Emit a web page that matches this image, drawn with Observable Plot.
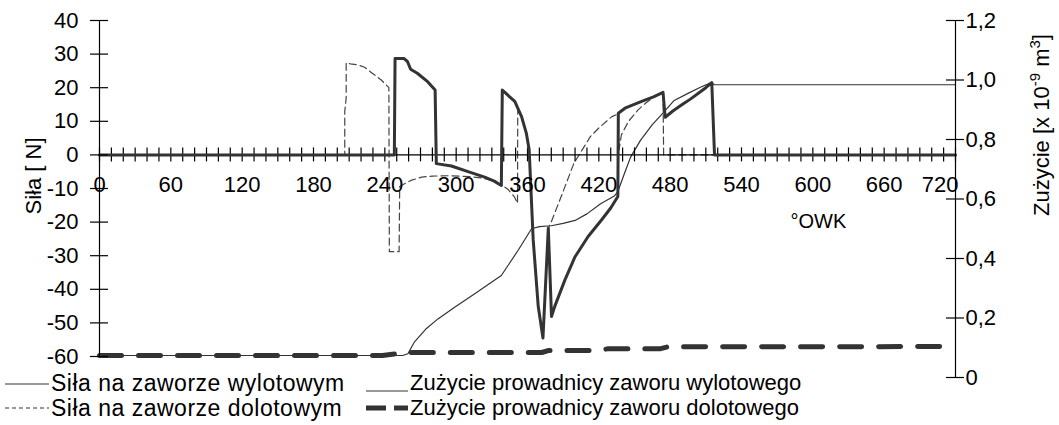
<!DOCTYPE html>
<html><head><meta charset="utf-8">
<script src="https://cdn.jsdelivr.net/npm/d3@7"></script>
<script src="https://cdn.jsdelivr.net/npm/@observablehq/plot@0.6"></script>
<style>
body{margin:0;background:#fff;font-family:"Liberation Sans",Arial,sans-serif;}
#wrap{position:relative;width:1059px;height:425px;overflow:hidden;}
.lgt{position:absolute;font-size:22px;line-height:22px;white-space:nowrap;color:#000;}
.lgt.wide{font-size:23px;letter-spacing:0.5px;}
.lgs{position:absolute;}
</style></head>
<body><div id="wrap"><div id="chart"></div><div id="legend"></div></div>
<script>
// ---- data (crank angle in °OWK) ----
const exhaustForceDeg = [0,248,248.6,256,259,261.7,267.3,276,282.3,283.3,296,310,324,332,338,338.8,341,345,349.3,355,359,361.4,364.8,369,373,377.5,380.2,383,391.5,400,411,422.4,430,436,436.4,442,456,466,474,475.8,482,489.8,497,504,510,515,517.3,720];
const exhaustForceN   = [0,0,28.7,28.7,27.8,25.5,24.3,21.8,19.3,-2.6,-3.3,-5.0,-6.6,-7.8,-9.1,19.3,18.6,17.3,15.9,11.4,6.5,1.5,-25.3,-45,-54.5,-21.8,-48.1,-45,-37.2,-30.3,-24.3,-19.3,-15.8,-12.4,12.4,13.9,15.9,17.3,18.6,11.2,13,14.9,16.6,18.4,20,21.5,0,0];

const intakeForceDeg = [0,206.3,206.3,207.5,207.5,211,217,223,228,237,243.4,243.8,252,252.5,257,262,271,280,295,313,322,330,338,344,349,351.6,351.8,355,359,361.4,364.8,369,373,377.5,379.6,385,390.5,399,406,413,420,431,436.2,437,439,445,453,460,467,474,474.5,720];
const intakeForceN   = [0,0,13,17,27.5,27.1,26.8,26.1,24.7,22.3,20.0,-28.8,-28.8,-9.4,-8.5,-7.6,-6.6,-6.3,-6.2,-6.5,-6.9,-7.6,-8.8,-10.4,-12.5,-14.4,13.4,11.4,6.5,1.5,-25.3,-45,-54.5,-21.8,-20.3,-15.4,-10.4,-2.5,1.5,5.5,8,11.4,12.2,1.5,6,10,13.4,15.6,17.4,18.4,0,0];

const exhaustWearDeg = [0,255,259.4,265,275,284.7,298.7,315,338,352,363.4,370,380,390,400,410,421.5,433,436,441,446.6,455,465,472,483,495,505,515,517,720];
const exhaustWear    = [0.074,0.074,0.080,0.12,0.165,0.197,0.236,0.28,0.343,0.427,0.50,0.507,0.51,0.518,0.528,0.55,0.584,0.61,0.625,0.68,0.74,0.797,0.85,0.88,0.93,0.955,0.975,0.992,0.984,0.984];

const intakeWearDeg = [0,238,248,258,372,378,420,428,472,478,720];
const intakeWear    = [0.074,0.074,0.079,0.084,0.084,0.091,0.091,0.097,0.097,0.103,0.104];

// ---- axes ----
const xLabels = [0,60,120,180,240,300,360,420,480,540,600,660,720];
const xMinor = d3.range(0, 721, 10);
const leftTicks = [-60,-50,-40,-30,-20,-10,0,10,20,30,40];
const rightTicks = [0,0.2,0.4,0.6,0.8,1.0,1.2];
const rightTickLabels = ["0","0,2","0,4","0,6","0,8","1,0","1,2"];

const leftTitle = "Siła [ N]";
const xTitle = "°OWK";
const seriesNames = ["Siła na zaworze wylotowym","Siła na zaworze dolotowym","Zużycie prowadnicy zaworu wylotowego","Zużycie prowadnicy zaworu dolotowego"];

// secondary axis mapping: right [0,1.2] spans slightly lower than left [-60,40]
const yLow = -66.25, yHigh = 40, rMax = 1.2;
const toLeft = r => yLow + r * (yHigh - yLow) / rMax;

const zip = (xs, ys) => xs.map((x, i) => ({x, y: ys[i]}));
const exF = zip(exhaustForceDeg, exhaustForceN);
const inF = zip(intakeForceDeg, intakeForceN);
const exW = zip(exhaustWearDeg, exhaustWear);
const inW = zip(intakeWearDeg, intakeWear);
const rt = rightTicks.map((v, i) => ({v, label: rightTickLabels[i]}));
const xLast = xLabels[xLabels.length - 1];

const ink = "#000", line = "#333";

const chart = Plot.plot({
  width: 1059, height: 425,
  marginLeft: 99, marginRight: 104, marginTop: 20, marginBottom: 48,
  x: {domain: [0, 720], axis: null},
  y: {domain: [yLow, yHigh], axis: null},
  style: {fontFamily: "'Liberation Sans', Arial, sans-serif", background: "#fff", overflow: "visible"},
  marks: [
    // series
    Plot.line(inW, {x: "x", y: d => toLeft(d.y), stroke: line, strokeWidth: 5, strokeDasharray: "22,17"}),
    Plot.line(exW, {x: "x", y: d => toLeft(d.y), stroke: line, strokeWidth: 1.2}),
    Plot.line(inF, {x: "x", y: "y", stroke: "#444", strokeWidth: 1.2, strokeDasharray: "7,4"}),
    // axes
    Plot.ruleY([0], {x1: xMinor[0], x2: xMinor[xMinor.length - 1], stroke: ink, strokeWidth: 1.2}),
    Plot.ruleX(xMinor, {x: d => d, y1: 0, y2: 0, insetTop: -7, insetBottom: -7, stroke: ink, strokeWidth: 1.2}),
    Plot.line(exF, {x: "x", y: "y", stroke: line, strokeWidth: 3, strokeLinejoin: "round"}),
    Plot.ruleX([0], {y1: d3.min(leftTicks), y2: d3.max(leftTicks), stroke: ink, strokeWidth: 1.2}),
    Plot.ruleY(leftTicks, {y: d => d, x1: 0, x2: 0, insetLeft: -9, insetRight: -9, stroke: ink, strokeWidth: 1.2}),
    Plot.text(leftTicks, {x: 0, y: d => d, text: d => String(d), textAnchor: "end", dx: -21, fontSize: 22, fill: ink}),
    Plot.ruleX([720], {y1: toLeft(d3.min(rightTicks)), y2: toLeft(d3.max(rightTicks)), stroke: ink, strokeWidth: 1.2}),
    Plot.ruleY(rt, {y: d => toLeft(d.v), x1: 720, x2: 720, insetLeft: -9, insetRight: -9, stroke: ink, strokeWidth: 1.2}),
    Plot.text(rt, {x: 720, y: d => toLeft(d.v), text: "label", textAnchor: "start", dx: 10, fontSize: 22, fill: ink}),
    Plot.text(xLabels.filter(d => d !== xLast), {x: d => d, y: 0, dy: 30, text: d => String(d), fontSize: 22, fill: ink}),
    Plot.text([xLast], {x: d => d, y: 0, dy: 30, dx: 3, text: d => String(d), textAnchor: "end", fontSize: 22, fill: ink}),
    Plot.text([xTitle], {frameAnchor: "top-right", dx: -165, dy: 193, textAnchor: "start", fontSize: 20, fill: ink})
  ]
});
document.getElementById("chart").appendChild(chart);

const svg = d3.select(chart);
svg.append("text")
  .attr("transform", "translate(33,176) rotate(-90)")
  .attr("text-anchor", "middle").attr("dy", "0.35em")
  .attr("font-size", 22).attr("fill", ink)
  .text(leftTitle);
const rtx = svg.append("text")
  .attr("transform", "translate(1041,125) rotate(-90)")
  .attr("text-anchor", "middle").attr("dy", "0.35em")
  .attr("font-size", 22).attr("fill", ink);
rtx.append("tspan").text("Zużycie [x 10");
rtx.append("tspan").attr("font-size", 15).attr("dy", "-0.6em").text("-9");
rtx.append("tspan").attr("dy", "0.4em").text(" m");
rtx.append("tspan").attr("font-size", 15).attr("dy", "-0.6em").text("3");
rtx.append("tspan").attr("dy", "0.4em").text("]");

// ---- legend ----
const lg = document.getElementById("legend");
const items = [
  {left: 5, top: 372, sw: 44, ly: 12, w: 1.2, dash: null, tx: 51, cls: "lgt wide"},
  {left: 5, top: 397, sw: 44, ly: 11, w: 1.2, dash: "4,3", tx: 51, cls: "lgt wide"},
  {left: 366, top: 372, sw: 42, ly: 19, w: 1.2, dash: null, tx: 410, cls: "lgt"},
  {left: 366, top: 397, sw: 42, ly: 11, w: 5, dash: "20,8", tx: 410, cls: "lgt"}
];
items.forEach((it, i) => {
  const s = document.createElementNS("http://www.w3.org/2000/svg", "svg");
  s.setAttribute("class", "lgs");
  s.setAttribute("width", it.sw); s.setAttribute("height", 24);
  s.style.left = it.left + "px"; s.style.top = it.top + "px";
  const l = document.createElementNS("http://www.w3.org/2000/svg", "line");
  l.setAttribute("x1", 0); l.setAttribute("x2", it.sw);
  l.setAttribute("y1", it.ly); l.setAttribute("y2", it.ly);
  l.setAttribute("stroke", line); l.setAttribute("stroke-width", it.w);
  if (it.dash) l.setAttribute("stroke-dasharray", it.dash);
  s.appendChild(l);
  lg.appendChild(s);
  const t = document.createElement("div");
  t.className = it.cls;
  t.style.left = it.tx + "px"; t.style.top = it.top + "px";
  t.textContent = seriesNames[i];
  lg.appendChild(t);
});
</script></body></html>
